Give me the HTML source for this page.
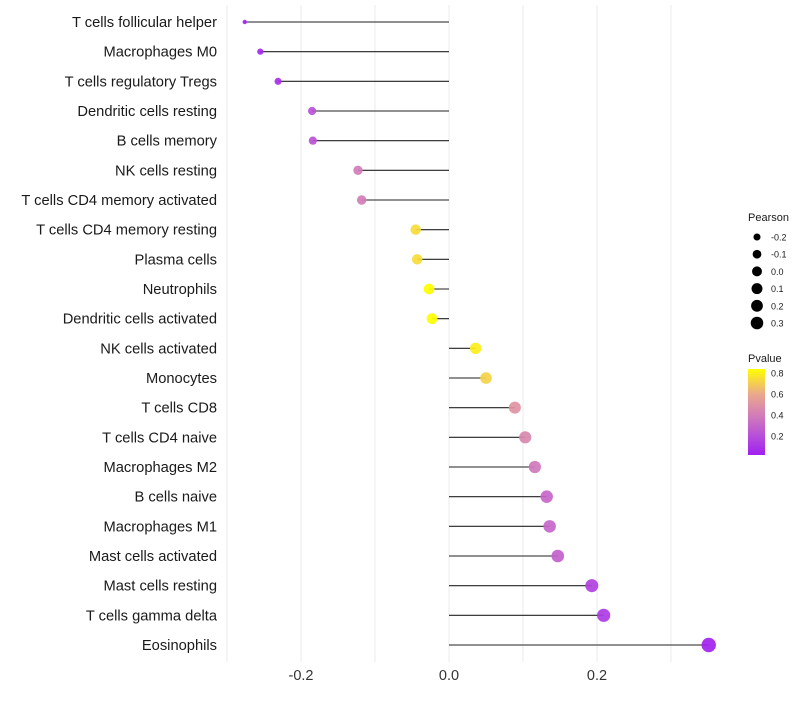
<!DOCTYPE html>
<html><head><meta charset="utf-8"><style>
body{margin:0;background:#fff;font-family:"Liberation Sans",sans-serif;}
svg text{font-family:"Liberation Sans",sans-serif;}
</style></head><body>
<svg id="chart" width="800" height="700"></svg>
<script>
const categories=["T cells follicular helper","Macrophages M0","T cells regulatory  Tregs","Dendritic cells resting","B cells memory","NK cells resting","T cells CD4 memory activated","T cells CD4 memory resting","Plasma cells","Neutrophils","Dendritic cells activated","NK cells activated","Monocytes","T cells CD8","T cells CD4 naive","Macrophages M2","B cells naive","Macrophages M1","Mast cells activated","Mast cells resting","T cells gamma delta","Eosinophils"];
const pearson=[-0.276,-0.255,-0.231,-0.185,-0.184,-0.123,-0.118,-0.045,-0.043,-0.027,-0.023,0.036,0.050,0.089,0.103,0.116,0.132,0.136,0.147,0.193,0.209,0.351];
const pvalue=[0.03,0.05,0.08,0.22,0.22,0.4,0.4,0.75,0.75,0.85,0.85,0.8,0.72,0.5,0.45,0.38,0.3,0.3,0.28,0.15,0.12,0.03];
const xTicks=[-0.2,0,0.2];
const xTickLabels=["-0.2","0.0","0.2"];
const sizeLegend=[-0.2,-0.1,0.0,0.1,0.2,0.3];
const sizeLegendLabels=["-0.2","-0.1","0.0","0.1","0.2","0.3"];
const colorLegend=[0.8,0.6,0.4,0.2];

const NS="http://www.w3.org/2000/svg";
const svg=document.getElementById('chart');
const x=v=>449+v*740;
const y=i=>22+i*(623/21);
const rad=v=>2.2+5*Math.sqrt(Math.max(0,(v+0.276)/0.627));
const stops=[[0.02,[160,32,240]],[0.2,[183,78,218]],[0.4,[210,125,184]],[0.6,[235,168,140]],[0.85,[255,255,0]]];
function col(p){
  if(p<=stops[0][0])return `rgb(${stops[0][1]})`;
  for(let i=1;i<stops.length;i++){if(p<=stops[i][0]){const a=stops[i-1],b=stops[i],t=(p-a[0])/(b[0]-a[0]);return `rgb(${a[1].map((c,k)=>Math.round(c+(b[1][k]-c)*t))})`;}}
  return `rgb(${stops[stops.length-1][1]})`;
}
function mk(tag,attrs,parent){const e=document.createElementNS(NS,tag);for(const k in attrs)e.setAttribute(k,attrs[k]);(parent||svg).appendChild(e);return e;}

[-0.3,-0.2,-0.1,0,0.1,0.2,0.3].forEach(v=>{
  const g=mk('line',{x1:x(v),x2:x(v),y1:5,y2:662,stroke:'#ebebeb','stroke-width':1});
  
  
});
xTicks.forEach((v,i)=>{
  const t=mk('text',{x:x(v),y:680,'text-anchor':'middle','font-size':14.5,fill:'#333'});
  t.textContent=xTickLabels[i];
  
  
});
categories.forEach((c,i)=>{
  const t=mk('text',{x:217,y:y(i)+5,'text-anchor':'end','font-size':14.7,fill:'#1a1a1a'});
  t.textContent=c;
  
  
  const l=mk('line',{x1:x(0),x2:x(pearson[i]),y1:y(i),y2:y(i),stroke:'#222','stroke-width':1.1});
  
  
  const p=mk('circle',{cx:x(pearson[i]),cy:y(i),r:rad(pearson[i]),fill:col(pvalue[i]),'fill-opacity':0.92});
  
  
});
const lt=mk('text',{x:748,y:221,'font-size':11,fill:'#1a1a1a'});lt.textContent='Pearson';


sizeLegend.forEach((v,i)=>{
  const cy=237+i*17.2;
  const c=mk('circle',{cx:757,cy:cy,r:rad(v)*0.9,fill:'#000'});
  
  
  const t=mk('text',{x:771,y:cy+3.5,'font-size':9,fill:'#1a1a1a'});t.textContent=sizeLegendLabels[i];
  
  
});
const ct=mk('text',{x:748,y:362,'font-size':11,fill:'#1a1a1a'});ct.textContent='Pvalue';


const defs=mk('defs',{});
const lg=mk('linearGradient',{id:'pg',x1:0,y1:1,x2:0,y2:0},defs);
stops.forEach(s=>mk('stop',{offset:(s[0]-0.02)/0.82,'stop-color':`rgb(${s[1]})`},lg));
const bar=mk('rect',{x:748,y:369,width:17,height:86,fill:'url(#pg)'});


colorLegend.forEach(v=>{
  const cy=455-(v-0.02)/0.82*86;
  const t=mk('text',{x:771,y:cy+3.5,'font-size':9,fill:'#1a1a1a'});t.textContent=v.toFixed(1);
  
  
});
</script>
</body></html>
